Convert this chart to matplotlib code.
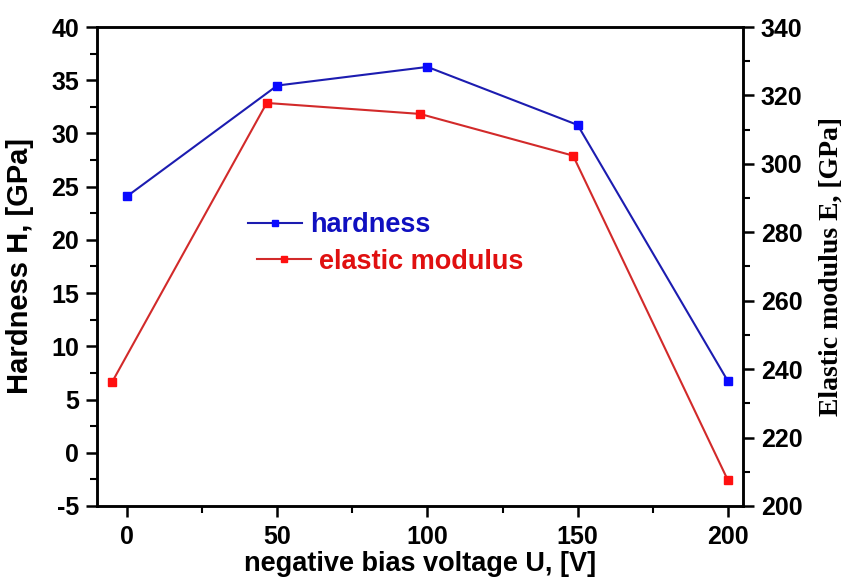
import numpy as np
import matplotlib
matplotlib.use("Agg")
import matplotlib.pyplot as plt
from matplotlib.ticker import MultipleLocator

# data
voltage_h = [0, 50, 100, 150, 200]
hardness = [24.1, 34.5, 36.25, 30.8, 6.75]
voltage_e = [-5, 46.5, 97.5, 148.5, 200]
modulus = [236.2, 317.8, 314.6, 302.4, 207.6]

plt.rcParams['font.family'] = ['Liberation Sans', 'DejaVu Sans']
plt.rcParams['font.weight'] = 'bold'
plt.rcParams['axes.unicode_minus'] = False

fig = plt.figure(figsize=(8.46, 5.82), dpi=100)
ax = fig.add_axes([0.1147, 0.1306, 0.7633, 0.823])
ax2 = ax.twinx()

l1, = ax.plot(voltage_h, hardness, color="#1c1cb0", lw=1.5, marker="s",
              ms=6, mfc="#0a0aff", mec="#0a0aff", label="hardness")
l2, = ax2.plot(voltage_e, modulus, color="#d22a2a", lw=1.5, marker="s",
               ms=6, mfc="#ff1010", mec="#ff1010", label="elastic modulus")

ax.set_xlim(-10, 205)
ax.set_ylim(-5, 40)
ax2.set_ylim(200, 340)

ax.xaxis.set_major_locator(MultipleLocator(50))
ax.xaxis.set_minor_locator(MultipleLocator(25))
ax.yaxis.set_major_locator(MultipleLocator(5))
ax.yaxis.set_minor_locator(MultipleLocator(2.5))
ax2.yaxis.set_major_locator(MultipleLocator(20))
ax2.yaxis.set_minor_locator(MultipleLocator(10))

for a in (ax, ax2):
    for s in a.spines.values():
        s.set_linewidth(1.8)
    a.tick_params(which="major", direction="out", length=8, width=1.8,
                  labelsize=18, pad=5)
    a.tick_params(which="minor", direction="out", length=5, width=1.5)
ax.tick_params(top=False, which="both")
ax.tick_params(axis="x", pad=6)

for lab in ax.get_xticklabels() + ax.get_yticklabels() + ax2.get_yticklabels():
    lab.set_fontweight("bold")

ax.set_xlabel("negative bias voltage U, [V]", fontsize=19.5, fontweight="bold",
              labelpad=1)
ax.set_ylabel("Hardness H, [GPa]", fontsize=21, fontweight="bold", labelpad=12)
ax2.set_ylabel("Elastic modulus E, [GPa]", fontsize=20, fontweight="bold",
               family=["Liberation Serif", "DejaVu Serif"], labelpad=12)

# two separate legend rows, the second sits a bit further right
leg_specs = [(l1, "hardness", "#1010c0", (0.293, 0.613)),
             (l2, "elastic modulus", "#e01010", (0.304, 0.550))]
for handle, text, col, anchor in leg_specs:
    leg = fig.legend(handles=[handle], labels=[text], loc="center left",
                     bbox_to_anchor=anchor, bbox_transform=fig.transFigure,
                     frameon=False, fontsize=19.5, handlelength=2.0,
                     handletextpad=0.3, borderpad=0, borderaxespad=0,
                     labelcolor=col)
    for t in leg.get_texts():
        t.set_fontweight("bold")
    for h in leg.legend_handles:
        h.set_markersize(4)

fig.savefig("out.png", dpi=100)
